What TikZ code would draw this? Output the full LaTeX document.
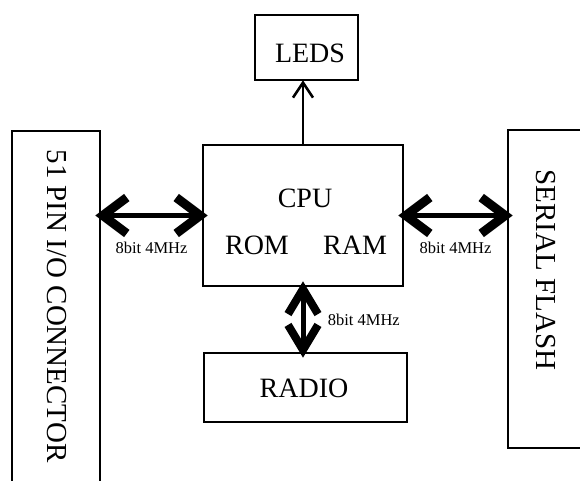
\documentclass[tikz,border=0pt]{standalone}
\usepackage{fontspec}
\setmainfont{Liberation Serif}
\usetikzlibrary{arrows.meta,positioning}

\begin{document}
\begin{tikzpicture}[x=1pt, y=-1pt,
    blk/.style={draw, line width=2.6pt, inner sep=0pt},
    big/.style={font=\fontsize{28}{30}\selectfont},
    side/.style={font=\fontsize{29}{30}\selectfont, rotate=-90},
    tag/.style={font=\fontsize{16.5}{18}\selectfont},
    wide barb/.tip={Straight Barb[length=24pt, width=36pt, line width=9pt, line cap=butt, line join=miter]},
    slim barb/.tip={Straight Barb[length=25pt, width=30pt, line width=8pt, line cap=butt, line join=miter]},
    bus/.style={line width=5pt, shorten <=-6pt, shorten >=-6pt}]
    \useasboundingbox (0,0) rectangle (580,481);

    % Blocks
    \node[blk, minimum width=103pt, minimum height=65pt] (leds) at (306.5,47.5) {};
    \node[big] (ledstxt) at (310,53) {LEDS};
    \node[blk, minimum width=200pt, minimum height=141pt] (cpu) at (303,215.5) {};
    \node[big] (cputxt) at (305,198) {CPU};
    \node[big] (rom) at (257,245) {ROM};
    \node[big] (ram) at (355,245) {RAM};
    \node[blk, minimum width=203pt, minimum height=69pt] (radio) at (305.5,387.5) {};
    \node[big] (radiotxt) at (304,388) {RADIO};

    % Side connectors (run off the page)
    \node[blk, minimum width=88pt, minimum height=380pt] (conn) at (56,321) {};
    \node[side] (conntxt) at (57,306) {51 PIN I/O CONNECTOR};
    \node[blk, minimum width=100pt, minimum height=318pt] (flash) at (558,289) {};
    \node[side] (flashtxt) at (546,270) {SERIAL FLASH};

    % Buses
    \draw[bus, {wide barb}-{wide barb}] (conn.east |- cpu.west) -- (cpu.west) node[midway, below=21pt, tag] {8bit 4MHz};
    \draw[bus, {wide barb}-{wide barb}] (cpu.east) -- (cpu.east -| flash.west) node[midway, below=21pt, tag] {8bit 4MHz};
    \draw[bus, {slim barb}-{slim barb}] (cpu.south) -- (cpu.south |- radio.north) node[midway, right=19pt, tag] {8bit 4MHz};
    \draw[line width=2.4pt, -{Straight Barb[length=15pt, width=20pt, line width=2.6pt]}, shorten >=-1pt] (cpu.north) -- (cpu.north |- leds.south);
\end{tikzpicture}
\end{document}
